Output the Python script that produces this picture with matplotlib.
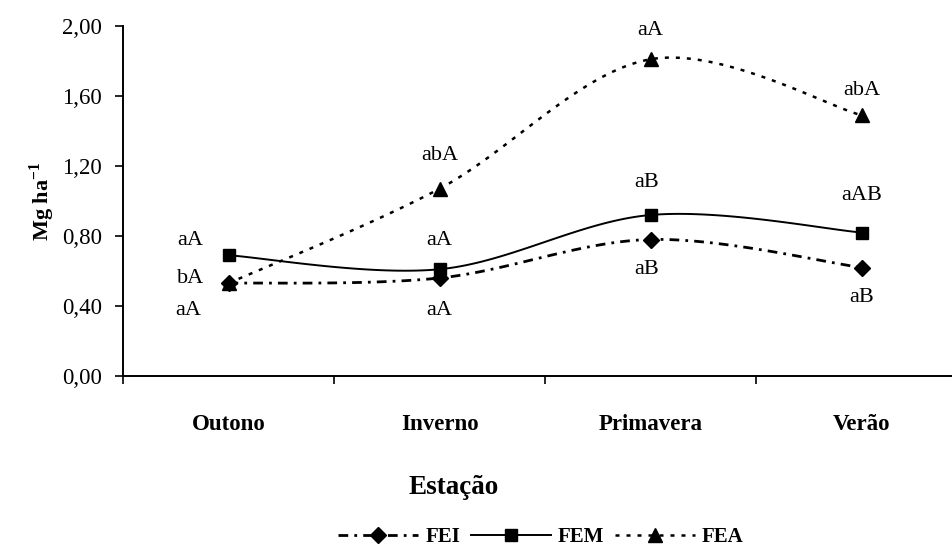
import numpy as np
import matplotlib
matplotlib.use("Agg")
import matplotlib.pyplot as plt
from matplotlib.lines import Line2D

plt.rcParams['font.family'] = ['Liberation Serif', 'DejaVu Serif']
plt.rcParams['mathtext.fontset'] = 'custom'
plt.rcParams['mathtext.rm'] = 'Liberation Serif'
plt.rcParams['mathtext.bf'] = 'Liberation Serif:bold'

categories = ["Outono", "Inverno", "Primavera", "Verão"]
fei = [0.53, 0.56, 0.78, 0.62]
fem = [0.69, 0.61, 0.92, 0.82]
fea = [0.53, 1.07, 1.81, 1.49]
yticks = [0.0, 0.4, 0.8, 1.2, 1.6, 2.0]
ytick_labels = ["0,00", "0,40", "0,80", "1,20", "1,60", "2,00"]

# significance labels per category (text only)
labels_text = [
    ["aA", "bA", "aA"],
    ["aA", "aA", "abA"],
    ["aA", "aB", "aB"],
    ["abA", "aAB", "aB"],
]
# label positions (x offset in category units, y in data units)
labels_pos = [
    [(-0.18, 0.777), (-0.18, 0.555), (-0.19, 0.377)],
    [(0.0, 0.777), (0.0, 0.377), (0.0, 1.26)],
    [(0.0, 1.977), (-0.02, 1.103), (-0.02, 0.606)],
    [(0.0, 1.634), (0.0, 1.034), (0.0, 0.451)],
]


def excel_smooth(x, y, n=40):
    x = np.asarray(x, float)
    y = np.asarray(y, float)
    P = np.column_stack([x, y])
    out = []
    m = len(P)
    for i in range(m - 1):
        p0 = P[i - 1] if i > 0 else P[i]
        p1 = P[i]
        p2 = P[i + 1]
        p3 = P[i + 2] if i + 2 < m else P[i + 1]
        c1 = p1 + (p2 - p0) / 6.0
        c2 = p2 - (p3 - p1) / 6.0
        t = np.linspace(0, 1, n)[:, None]
        seg = ((1 - t) ** 3) * p1 + 3 * ((1 - t) ** 2) * t * c1 + 3 * (1 - t) * t ** 2 * c2 + t ** 3 * p2
        out.append(seg if i == 0 else seg[1:])
    s = np.vstack(out)
    return s[:, 0], s[:, 1]


W, H = 952, 554
fig = plt.figure(figsize=(W / 100, H / 100), dpi=100)
left = 123 / W
bottom = (H - 376) / H
ax = fig.add_axes([left, bottom, 844 / W, 350 / H])

xs = np.arange(len(categories))

styles = [
    (fei, "FEI", "D", (0, (3.5, 2.2, 1.0, 2.2)), 2.0, 8),
    (fem, "FEM", "s", "-", 1.4, 8.5),
    (fea, "FEA", "^", (0, (1.6, 2.8)), 1.8, 9.5),
]
handles = []
for vals, name, mk, ls, lw, ms in styles:
    sx, sy = excel_smooth(xs, vals)
    ax.plot(sx, sy, color="black", linestyle=ls, linewidth=lw, clip_on=False)
    ax.plot(xs, vals, linestyle="none", marker=mk, color="black", markersize=ms, clip_on=False)
    handles.append(Line2D([0], [0], color="black", linestyle=ls, linewidth=lw, marker=mk, markersize=ms))

for i, (txts, poss) in enumerate(zip(labels_text, labels_pos)):
    for t, (dx, yy) in zip(txts, poss):
        ax.text(i + dx, yy, t, ha="center", va="center", fontsize=16)

ax.set_xlim(-0.5, 3.5)
ax.set_ylim(0, 2.0)
ax.set_yticks(yticks)
ax.set_yticklabels(ytick_labels, fontsize=16.5)
ax.set_xticks(xs)
ax.set_xticklabels(categories, fontsize=16.5, fontweight="bold")
ax.set_xticks([-0.5, 0.5, 1.5, 2.5, 3.5], minor=True)
ax.tick_params(axis="x", which="major", length=0, pad=27)
ax.tick_params(axis="x", which="minor", length=6, width=1.2, direction="out")
ax.tick_params(axis="y", length=6, width=1.2, direction="out", pad=9)
for s in ["top", "right"]:
    ax.spines[s].set_visible(False)
for s in ["left", "bottom"]:
    ax.spines[s].set_linewidth(1.4)

ax.set_ylabel("Mg ha$^{\\mathbf{-1}}$", fontsize=16, fontweight="bold", labelpad=4)
fig.text(454 / W, 1 - 488 / H, "Estação", ha="center", va="center", fontsize=19.5, fontweight="bold")

handle_px = 80
fs_leg = 15
leg = fig.legend(handles, ["FEI", "FEM", "FEA"], loc="center", bbox_to_anchor=(541 / W, 1 - 537 / H),
                 ncol=3, frameon=False, handlelength=handle_px / (fs_leg * 100 / 72),
                 handletextpad=0.35, columnspacing=0.5,
                 prop={"weight": "bold", "size": fs_leg})

fig.savefig("out.png", dpi=100)
